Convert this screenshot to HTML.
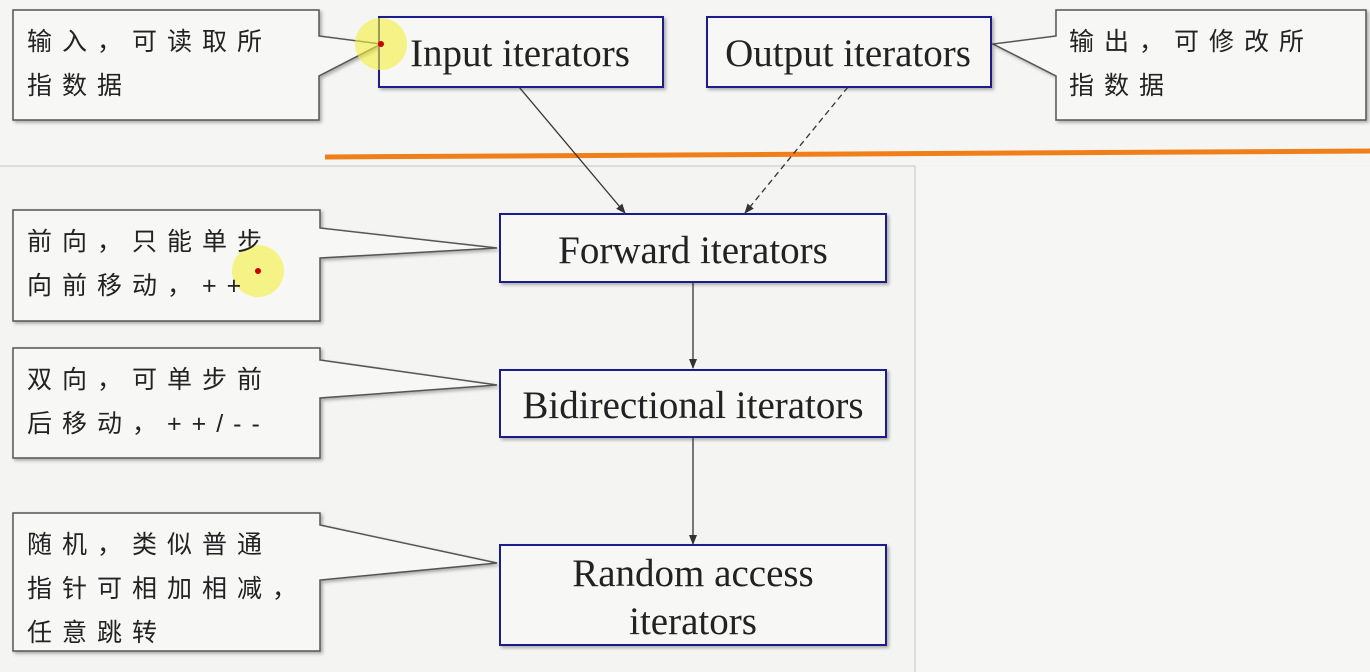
<!DOCTYPE html>
<html><head><meta charset="utf-8"><style>
html,body{margin:0;padding:0;background:#f4f4f2;}
svg{display:block}
.b{font-family:"Liberation Serif",serif;font-size:39px;fill:#222;}
.c{font-family:"Liberation Sans","Noto Sans CJK SC",sans-serif;font-size:25px;fill:#222;letter-spacing:10px}
</style></head><body>
<svg width="1370" height="672" viewBox="0 0 1370 672" xmlns="http://www.w3.org/2000/svg">
<defs>
<marker id="a" markerWidth="10" markerHeight="10" refX="9" refY="5" orient="auto" markerUnits="userSpaceOnUse"><path d="M0,1 L10,5 L0,9 z" fill="#333"/></marker>
<filter id="s" x="-5%" y="-5%" width="115%" height="120%"><feDropShadow dx="2" dy="2" stdDeviation="1.5" flood-color="#000" flood-opacity="0.3"/></filter>
</defs>
<rect x="0" y="0" width="1370" height="165" fill="#f5f5f3"/>
<line x1="0" y1="166" x2="915" y2="166" stroke="#ddd" stroke-width="2"/>
<line x1="915" y1="166" x2="915" y2="672" stroke="#ddd" stroke-width="2"/>
<rect x="916" y="167" width="454" height="505" fill="#f6f6f4"/>
<line x1="325" y1="157" x2="1370" y2="151" stroke="#f07f1a" stroke-width="5"/>

<g fill="#f7f7f5" stroke="#555" stroke-width="1.5" filter="url(#s)">
<path d="M13,10 H319 V36 L381,44 L319,76 V120 H13 Z"/>
<path d="M1056,10 H1366 V120 H1056 V76 L993,44 L1056,36 Z"/>
<path d="M13,210 H320 V228 L497,248 L320,258 V321 H13 Z"/>
<path d="M13,348 H320 V360 L497,385 L320,398 V458 H13 Z"/>
<path d="M13,513 H320 V525 L497,563 L320,580 V651 H13 Z"/>
</g>
<g fill="#f7f7f5" stroke="#1a1a8c" stroke-width="2" filter="url(#s)">
<rect x="379" y="17" width="284" height="70"/>
<rect x="707" y="17" width="284" height="70"/>
<rect x="500" y="214" width="386" height="68"/>
<rect x="500" y="370" width="386" height="67"/>
<rect x="500" y="545" width="386" height="100"/>
</g>
<circle cx="381" cy="44" r="26" fill="#f3f03a" opacity="0.6"/>
<circle cx="381" cy="44" r="3" fill="#c00"/>
<circle cx="258" cy="271" r="26" fill="#f3f03a" opacity="0.6"/>
<circle cx="258" cy="271" r="3" fill="#c00"/>

<g stroke="#333" stroke-width="1.3" fill="none">
<line x1="519" y1="87" x2="625" y2="213" marker-end="url(#a)"/>
<line x1="848" y1="87" x2="745" y2="213" stroke-dasharray="6,4" marker-end="url(#a)"/>
<line x1="693" y1="282" x2="693" y2="368" marker-end="url(#a)"/>
<line x1="693" y1="437" x2="693" y2="544" marker-end="url(#a)"/>
</g>

<text class="b" x="520" y="66" text-anchor="middle">Input iterators</text>
<text class="b" x="848" y="66" text-anchor="middle">Output iterators</text>
<text class="b" x="693" y="263" text-anchor="middle">Forward iterators</text>
<text class="b" x="693" y="418" text-anchor="middle">Bidirectional iterators</text>
<text class="b" x="693" y="586" text-anchor="middle">Random access</text>
<text class="b" x="693" y="634" text-anchor="middle">iterators</text>

<text class="c" x="27" y="50">输入，可读取所</text>
<text class="c" x="27" y="94">指数据</text>
<text class="c" x="1069" y="50">输出，可修改所</text>
<text class="c" x="1069" y="94">指数据</text>
<text class="c" x="27" y="250">前向，只能单步</text>
<text class="c" x="27" y="294">向前移动，++</text>
<text class="c" x="27" y="388">双向，可单步前</text>
<text class="c" x="27" y="432">后移动，++/--</text>
<text class="c" x="27" y="553">随机，类似普通</text>
<text class="c" x="27" y="597">指针可相加相减，</text>
<text class="c" x="27" y="641">任意跳转</text>
</svg>
</body></html>
